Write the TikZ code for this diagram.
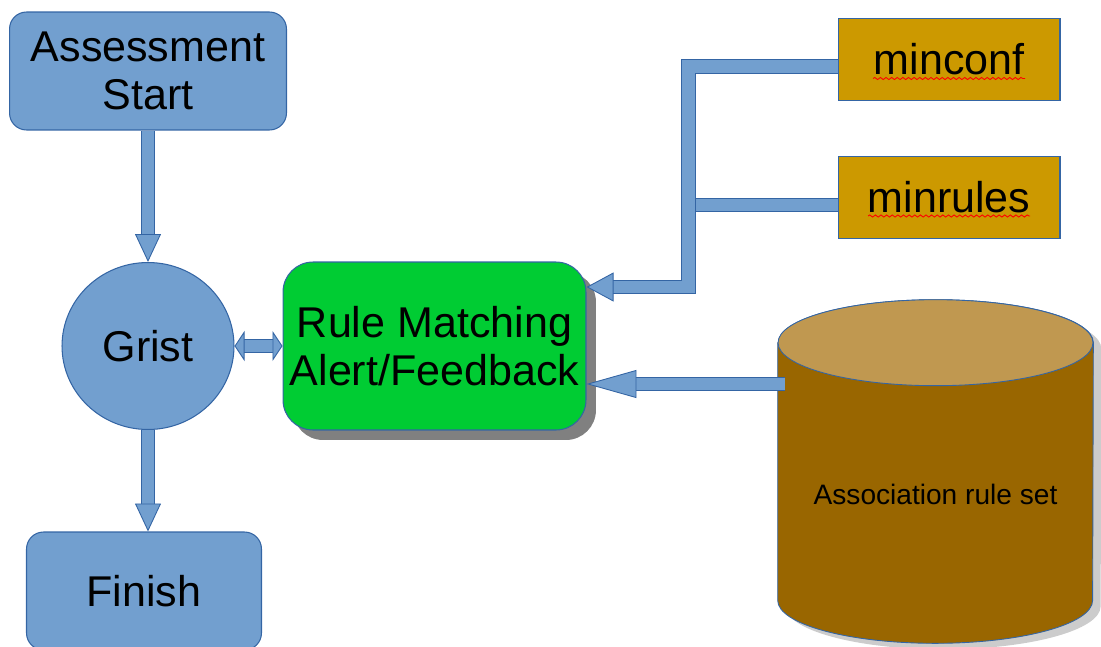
\documentclass[tikz,border=0pt]{standalone}
\usepackage{fontspec}
\setmainfont{Liberation Sans}
\usetikzlibrary{shapes.geometric,arrows.meta,calc,shadows,backgrounds,decorations.pathmorphing}
\definecolor{boxblue}{HTML}{729FCF}
\definecolor{edgeblue}{HTML}{3465A4}
\definecolor{matchgreen}{HTML}{00CC33}
\definecolor{paramgold}{HTML}{CC9900}
\definecolor{cylbody}{HTML}{996600}
\definecolor{cyltop}{HTML}{C09850}
\tikzset{
  downhead/.tip={Triangle[open, fill=boxblue, length=0.56cm, width=0.52cm, line width=0.5pt]},
  sidehead/.tip={Triangle[open, fill=boxblue, length=0.2cm, width=0.6cm, line width=0.5pt]},
  feedhead/.tip={Triangle[open, fill=boxblue, length=0.54cm, width=0.58cm, line width=0.5pt]},
  longhead/.tip={Triangle[open, fill=boxblue, length=1cm, width=0.56cm, line width=0.5pt]},
}
\begin{document}
\begin{tikzpicture}[x=0.02cm, y=-0.02cm,
    every node/.style={font=\fontsize{24.5}{27.3}\selectfont, align=center},
    stepbox/.style={draw=edgeblue, fill=boxblue, rounded corners=0.34cm, line width=0.6pt},
    param/.style={draw=edgeblue, fill=paramgold, minimum width=4.44cm, minimum height=1.64cm, line width=0.6pt},
    flow/.style={draw=edgeblue, line width=0.5pt, double=boxblue, double distance=7pt},
    drum/.style={draw=edgeblue, line width=0.5pt},
    spell/.style={red, line width=0.5pt, decorate, decoration={snake, amplitude=0.6pt, segment length=3.2pt}}]
	\useasboundingbox (0,0) rectangle (1101,646);
	% flow on the left
	\node[stepbox, minimum width=5.54cm, minimum height=2.36cm] (start) at (148,71) {Assessment\\Start};
	\node[ellipse, draw=edgeblue, fill=boxblue, line width=0.6pt, minimum width=3.44cm, minimum height=3.34cm] (grist) at (148,346) {Grist};
	\node[stepbox, minimum width=4.7cm, minimum height=2.36cm] (finish) at (144,591) {Finish};
	\node[draw=edgeblue, fill=matchgreen, line width=0.6pt, rounded corners=0.6cm,
	      minimum width=6.06cm, minimum height=3.36cm,
	      drop shadow={shadow xshift=0.2cm, shadow yshift=-0.2cm, fill=black!50, opacity=1}] (rule) at (434.5,346) {Rule Matching\\Alert/Feedback};
	% thresholds and rule base
	\node[param] (minconf) at (949,59.5) {minconf};
	\node[param] (minrules) at (949,197.5) {minrules};
	\node[minimum width=6.3cm, minimum height=6.86cm, inner sep=0pt,
	      label={[font=\fontsize{16}{19}\selectfont, yshift=-0.46cm]center:Association rule set}] (ruleset) at (935.5,471.5) {};
	\begin{scope}[on background layer]
		\fill[black!20, transform canvas={shift={(0.16cm,-0.12cm)}}]
			($(ruleset.north west)+(0,43)$) -- ($(ruleset.south west)+(0,-43)$)
			arc[start angle=180, end angle=360, x radius=3.15cm, y radius=0.86cm]
			-- ($(ruleset.north east)+(0,43)$)
			arc[start angle=0, end angle=180, x radius=3.15cm, y radius=0.86cm] -- cycle;
		\filldraw[drum, fill=cylbody]
			($(ruleset.north west)+(0,43)$) -- ($(ruleset.south west)+(0,-43)$)
			arc[start angle=180, end angle=360, x radius=3.15cm, y radius=0.86cm]
			-- ($(ruleset.north east)+(0,43)$)
			arc[start angle=0, end angle=180, x radius=3.15cm, y radius=0.86cm] -- cycle;
		\filldraw[drum, fill=cyltop] ($(ruleset.north)+(0,43)$) ellipse[x radius=3.15cm, y radius=0.86cm];
	\end{scope}
	\draw[spell] ($(minconf.center)+(-76,19)$) -- ($(minconf.center)+(76,19)$);
	\draw[spell] ($(minrules.center)+(-81,18.5)$) -- ($(minrules.center)+(81,18.5)$);
	% connectors
	\coordinate (jt) at (688.5,66.5);
	\coordinate (jm) at (688.5,205);
	\coordinate (jb) at (688.5,287);
	\coordinate (feed) at (785,384);
	\draw[flow, -downhead] (start.south) -- (grist.north);
	\draw[flow, -downhead] (grist.south) -- (grist.south |- finish.north);
	\draw[flow, sidehead-sidehead] (grist.east) -- (rule.west);
	\draw[flow] (minrules.west |- jm) -- (jm);
	\draw[flow, -feedhead] (minconf.west |- jt) -- (jt) -- (jb) -- (jb -| rule.east);
	\draw[flow, -longhead] (feed) -- (feed -| rule.east);
\end{tikzpicture}
\end{document}
